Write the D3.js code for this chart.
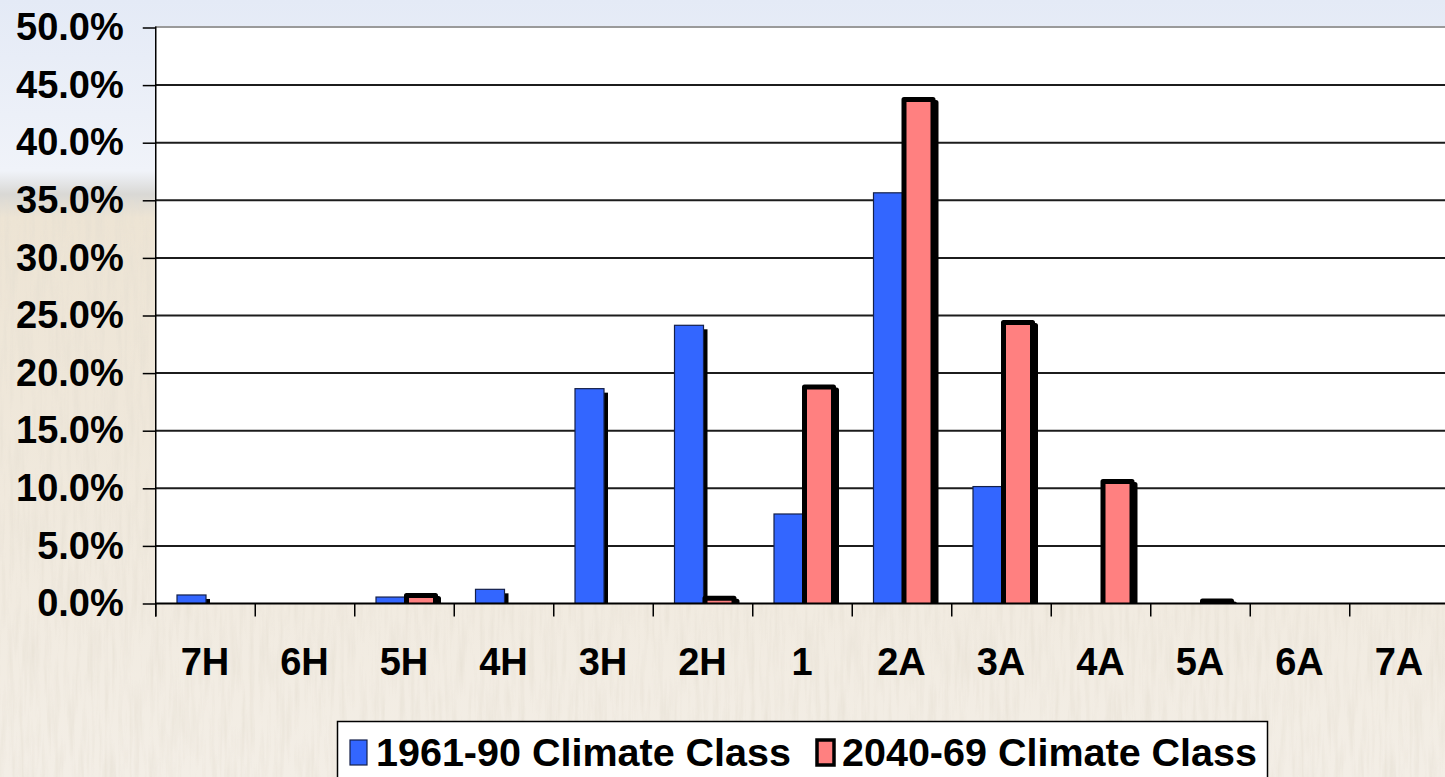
<!DOCTYPE html>
<html>
<head>
<meta charset="utf-8">
<script src="https://cdn.jsdelivr.net/npm/d3@7"></script>
<style>
  html, body { margin: 0; padding: 0; background: #f1ece4; }
  svg { display: block; }
  text { font-family: "Liberation Sans", Arial, sans-serif; font-weight: bold; fill: #000; }
</style>
</head>
<body>
<svg id="chart" width="1445" height="777"></svg>
<script>
// Share of area in each climate class, historical vs. projected
const categories = ["7H", "6H", "5H", "4H", "3H", "2H", "1", "2A", "3A", "4A", "5A", "6A", "7A"];
const baseline1961 = [0.0074, 0, 0.0056, 0.0123, 0.1865, 0.2415, 0.0777, 0.3565, 0.1015, 0, 0, 0, 0];
const future2040 = [0, 0, 0.0070, 0, 0, 0.0045, 0.1880, 0.4375, 0.2440, 0.1060, 0.0022, 0, 0];
const seriesNames = ["1961-90 Climate Class", "2040-69 Climate Class"];
const yTicks = [0, 0.05, 0.10, 0.15, 0.20, 0.25, 0.30, 0.35, 0.40, 0.45, 0.50];

const W = 1445, H = 777;
const svg = d3.select("#chart");
const defs = svg.append("defs");

// ---- backdrop: hazy sky over a pale wheat field ----
const sky = defs.append("linearGradient").attr("id", "sky").attr("x1", 0).attr("y1", 0).attr("x2", 0).attr("y2", 1);
sky.append("stop").attr("offset", "0%").attr("stop-color", "#e4eaf6");
sky.append("stop").attr("offset", "22%").attr("stop-color", "#f0f3f9");
sky.append("stop").attr("offset", "25%").attr("stop-color", "#d9d8d5");
sky.append("stop").attr("offset", "28%").attr("stop-color", "#ede4d4");
sky.append("stop").attr("offset", "100%").attr("stop-color", "#f3eee6");

const grain = defs.append("filter").attr("id", "grain").attr("x", 0).attr("y", 0).attr("width", 1).attr("height", 1);
grain.append("feTurbulence").attr("type", "fractalNoise").attr("baseFrequency", "0.2 0.016").attr("numOctaves", 3).attr("seed", 7).attr("result", "n");
grain.append("feColorMatrix").attr("in", "n").attr("type", "matrix")
  .attr("values", "0 0 0 0 0.78  0 0 0 0 0.73  0 0 0 0 0.64  0 0 0 -2 1.2");
grain.append("feComposite").attr("in2", "SourceGraphic").attr("operator", "in");

svg.append("rect").attr("width", W).attr("height", H).attr("fill", "url(#sky)");
svg.append("rect").attr("y", 200).attr("width", W).attr("height", H - 200)
  .attr("fill", "#fff").attr("filter", "url(#grain)").attr("opacity", 0.55);

// ---- scales ----
const x0 = 155.25, step = 99.5;
const x = d3.scaleBand().domain(categories).range([x0, x0 + step * categories.length]).padding(0);
const y = d3.scaleLinear().domain([0, 0.5]).range([603.5, 27.5]);
const yBase = y(0);

// ---- plot area ----
svg.append("rect").attr("x", x0).attr("y", y(0.5)).attr("width", W - x0).attr("height", yBase - y(0.5)).attr("fill", "#fff");
svg.append("line").attr("x1", x0).attr("x2", W).attr("y1", y(0.5) - 0.5).attr("y2", y(0.5) - 0.5)
  .attr("stroke", "#9a9a9a").attr("stroke-width", 2);

// gridlines
svg.append("g").selectAll("line").data(yTicks.filter(t => t > 0 && t < 0.5)).join("line")
  .attr("x1", x0).attr("x2", W).attr("y1", d => y(d)).attr("y2", d => y(d))
  .attr("stroke", "#1c1c1c").attr("stroke-width", 2);

defs.append("clipPath").attr("id", "plotClip").append("rect")
  .attr("x", x0).attr("y", 0).attr("width", W - x0).attr("height", yBase);

const marks = svg.append("g").attr("clip-path", "url(#plotClip)");

// 1961-90 bars: blue with a drop shadow
const blueW = 29;
const blueData = categories.map((c, i) => ({ c, v: baseline1961[i] })).filter(d => d.v > 0);
const blue = marks.append("g");
blue.selectAll("rect.sh").data(blueData).join("rect")
  .attr("class", "sh")
  .attr("x", d => x(d.c) + x.bandwidth() / 2 - 28 + 4).attr("y", d => y(d.v) + 4)
  .attr("width", blueW).attr("height", d => yBase - y(d.v)).attr("fill", "#000");
blue.selectAll("rect.bar").data(blueData).join("rect")
  .attr("class", "bar")
  .attr("x", d => x(d.c) + x.bandwidth() / 2 - 28).attr("y", d => y(d.v))
  .attr("width", blueW).attr("height", d => yBase - y(d.v))
  .attr("fill", "#3366ff").attr("stroke", "#14204a").attr("stroke-width", 1.2);

// 2040-69 bars: pink with a heavy black outline and shadow
const redW = 29;
const redData = categories.map((c, i) => ({ c, v: future2040[i] })).filter(d => d.v > 0);
const red = marks.append("g");
red.selectAll("rect.sh").data(redData).join("rect")
  .attr("class", "sh")
  .attr("x", d => x(d.c) + x.bandwidth() / 2 + 2.5 + 3).attr("y", d => y(d.v) + 3)
  .attr("width", redW).attr("height", d => yBase - y(d.v) + 4)
  .attr("fill", "#000").attr("stroke", "#000").attr("stroke-width", 5).attr("stroke-linejoin", "round");
red.selectAll("rect.bar").data(redData).join("rect")
  .attr("class", "bar")
  .attr("x", d => x(d.c) + x.bandwidth() / 2 + 2.5).attr("y", d => y(d.v))
  .attr("width", redW).attr("height", d => yBase - y(d.v) + 4)
  .attr("fill", "#ff8080").attr("stroke", "#000").attr("stroke-width", 5).attr("stroke-linejoin", "round");

// ---- axes ----
const yAxis = d3.axisLeft(y).tickValues(yTicks).tickFormat(d3.format(".1%")).tickSize(13).tickPadding(19);
const gy = svg.append("g").attr("transform", `translate(${x0 + 0.5},0)`).call(yAxis);
gy.select(".domain").remove();
gy.selectAll(".tick line").attr("stroke", "#000").attr("stroke-width", 1.5);
gy.selectAll("text").style("font-size", "38px").attr("fill", "#000");
svg.append("line").attr("x1", x0 + 0.5).attr("x2", x0 + 0.5).attr("y1", y(0.5) - 1).attr("y2", yBase + 13)
  .attr("stroke", "#000").attr("stroke-width", 1.5);

const xAxis = d3.axisBottom(x).tickSize(0).tickPadding(45);
const gx = svg.append("g").attr("transform", `translate(0,${yBase})`).call(xAxis);
gx.select(".domain").remove();
gx.selectAll("text").style("font-size", "38px").attr("fill", "#000");
// category boundary ticks
svg.append("g").selectAll("line").data(categories).join("line")
  .attr("x1", d => x(d) + 0.5).attr("x2", d => x(d) + 0.5)
  .attr("y1", yBase).attr("y2", yBase + 13)
  .attr("stroke", "#000").attr("stroke-width", 1.5);
svg.append("line").attr("x1", x0).attr("x2", W).attr("y1", yBase).attr("y2", yBase)
  .attr("stroke", "#000").attr("stroke-width", 2);

// ---- legend ----
const lg = svg.append("g");
lg.append("rect").attr("x", 337.5).attr("y", 721.5).attr("width", 930).attr("height", 70)
  .attr("fill", "#fff").attr("stroke", "#000").attr("stroke-width", 1.5);
const legendItems = [
  { name: seriesNames[0], fill: "#3366ff", stroke: "#14204a", sw: 1.2, sx: 350, sw2: 17, tx: 376 },
  { name: seriesNames[1], fill: "#ff8080", stroke: "#000", sw: 3.5, sx: 817, sw2: 17, tx: 842 }
];
legendItems.forEach(it => {
  lg.append("rect").attr("x", it.sx).attr("y", 740).attr("width", it.sw2).attr("height", 25)
    .attr("fill", it.fill).attr("stroke", it.stroke).attr("stroke-width", it.sw);
  lg.append("text").attr("x", it.tx).attr("y", 766).style("font-size", "39.5px").text(it.name);
});
</script>
</body>
</html>
